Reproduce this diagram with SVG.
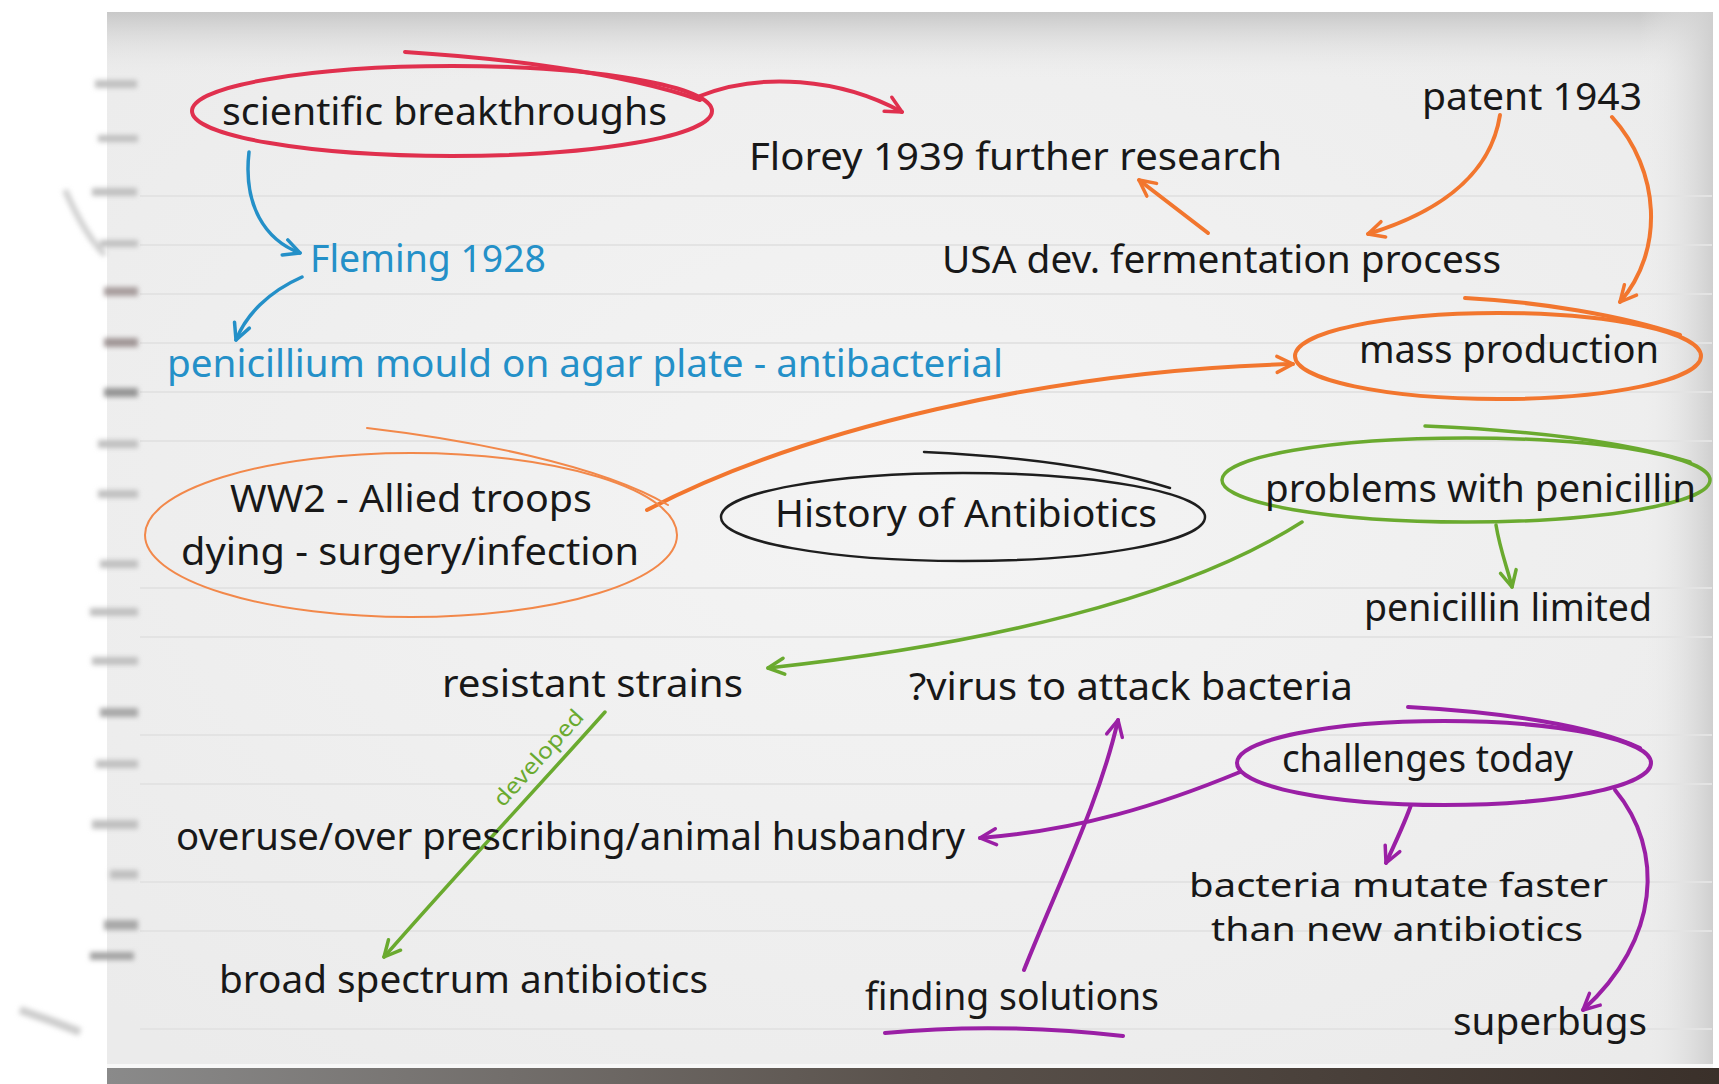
<svg xmlns="http://www.w3.org/2000/svg" width="1719" height="1084" viewBox="0 0 1719 1084">
<style>
.t{font-family:"Noto Sans","DejaVu Sans",sans-serif;font-size:38px;fill:#181818}
.b{fill:#2490c8}
.sm{font-size:32px}
.c{fill:none;stroke-linecap:round;stroke-linejoin:round}
.red{stroke:#e0304e;stroke-width:4}
.blu{stroke:#2490c8;stroke-width:3.5}
.org{stroke:#f2762e;stroke-width:4}
.grn{stroke:#6aaa2f;stroke-width:3.5}
.pur{stroke:#9a1fa5;stroke-width:4}
.blk{stroke:#1e1e1e;stroke-width:2.5}
.rule{stroke:#e3e3e3;stroke-width:2}
</style>
<defs>
<marker id="mRed" viewBox="0 0 22 22" refX="19" refY="11" markerWidth="22" markerHeight="22" markerUnits="userSpaceOnUse" orient="auto"><path d="M3,3 L19,11 L3,19" fill="none" stroke="#e0304e" stroke-width="3.5" stroke-linecap="round" stroke-linejoin="round"/></marker>
<marker id="mBlu" viewBox="0 0 22 22" refX="19" refY="11" markerWidth="22" markerHeight="22" markerUnits="userSpaceOnUse" orient="auto"><path d="M3,3 L19,11 L3,19" fill="none" stroke="#2490c8" stroke-width="3.5" stroke-linecap="round" stroke-linejoin="round"/></marker>
<marker id="mOrg" viewBox="0 0 22 22" refX="19" refY="11" markerWidth="22" markerHeight="22" markerUnits="userSpaceOnUse" orient="auto"><path d="M3,3 L19,11 L3,19" fill="none" stroke="#f2762e" stroke-width="3.5" stroke-linecap="round" stroke-linejoin="round"/></marker>
<marker id="mGrn" viewBox="0 0 22 22" refX="19" refY="11" markerWidth="22" markerHeight="22" markerUnits="userSpaceOnUse" orient="auto"><path d="M3,3 L19,11 L3,19" fill="none" stroke="#6aaa2f" stroke-width="3.5" stroke-linecap="round" stroke-linejoin="round"/></marker>
<marker id="mPur" viewBox="0 0 22 22" refX="19" refY="11" markerWidth="22" markerHeight="22" markerUnits="userSpaceOnUse" orient="auto"><path d="M3,3 L19,11 L3,19" fill="none" stroke="#9a1fa5" stroke-width="3.5" stroke-linecap="round" stroke-linejoin="round"/></marker>
<linearGradient id="gTop" x1="0" y1="0" x2="0" y2="1"><stop offset="0" stop-color="#c8c8c8"/><stop offset="1" stop-color="#efefef" stop-opacity="0"/></linearGradient>
<linearGradient id="gRight" x1="0" y1="0" x2="1" y2="0"><stop offset="0" stop-color="#efefef" stop-opacity="0"/><stop offset="1" stop-color="#cfcfcf"/></linearGradient>
<linearGradient id="gBottom" x1="0" y1="0" x2="1" y2="0"><stop offset="0" stop-color="#8a8a8a"/><stop offset="0.5" stop-color="#5a524c"/><stop offset="1" stop-color="#3a302a"/></linearGradient>
<radialGradient id="gBody" cx="0.5" cy="0.45" r="0.7"><stop offset="0" stop-color="#f4f4f4"/><stop offset="1" stop-color="#ebebeb"/></radialGradient>
<filter id="soft" x="-50%" y="-5%" width="200%" height="110%"><feGaussianBlur stdDeviation="2.5"/></filter>
</defs>

<g id="paper">
<rect x="0" y="0" width="1719" height="1084" fill="#ffffff"/>
<rect x="107" y="12" width="1606" height="1060" fill="url(#gBody)"/>
<rect x="107" y="12" width="1606" height="70" fill="url(#gTop)"/>
<rect x="1640" y="12" width="73" height="1060" fill="url(#gRight)"/>
<g class="rule">
<line x1="140" y1="196" x2="1712" y2="196"/>
<line x1="140" y1="245" x2="1712" y2="245"/>
<line x1="140" y1="294" x2="1712" y2="294"/>
<line x1="140" y1="343" x2="1712" y2="343"/>
<line x1="140" y1="392" x2="1712" y2="392"/>
<line x1="140" y1="441" x2="1712" y2="441"/>
<line x1="140" y1="588" x2="1712" y2="588"/>
<line x1="140" y1="637" x2="1712" y2="637"/>
<line x1="140" y1="735" x2="1712" y2="735"/>
<line x1="140" y1="784" x2="1712" y2="784"/>
<line x1="140" y1="882" x2="1712" y2="882"/>
<line x1="140" y1="931" x2="1712" y2="931"/>
<line x1="140" y1="1029" x2="1712" y2="1029"/>
</g>
<g filter="url(#soft)" fill="#c0c0c0">
<rect x="95" y="80" width="42" height="8"/>
<rect x="98" y="135" width="40" height="7"/>
<rect x="92" y="188" width="45" height="8"/>
<rect x="100" y="240" width="38" height="7"/>
<rect x="104" y="287" width="34" height="9" fill="#a89e9e"/>
<rect x="104" y="338" width="34" height="9" fill="#a09696"/>
<rect x="104" y="388" width="34" height="9" fill="#949494"/>
<rect x="98" y="440" width="40" height="8"/>
<rect x="98" y="490" width="40" height="8"/>
<rect x="100" y="560" width="38" height="8"/>
<rect x="90" y="608" width="48" height="8"/>
<rect x="92" y="657" width="46" height="8"/>
<rect x="100" y="708" width="38" height="9" fill="#a8a8a8"/>
<rect x="96" y="760" width="42" height="8"/>
<rect x="92" y="820" width="46" height="9"/>
<rect x="110" y="870" width="28" height="9"/>
<rect x="104" y="920" width="34" height="10" fill="#a8a8a8"/>
<rect x="90" y="952" width="44" height="8" fill="#a4a4a4"/>
<path d="M65,190 Q85,235 105,255" stroke="#d0d0d0" stroke-width="6" fill="none"/>
<path d="M20,1010 Q50,1020 80,1032" stroke="#cccccc" stroke-width="8" fill="none"/>
</g>
<rect x="107" y="1068" width="1612" height="16" fill="url(#gBottom)"/>
<rect x="107" y="1064" width="1606" height="4" fill="#f8f8f8"/>
</g>

<g id="connectors">
<path class="c red" d="M700,96 C760,72 840,78 902,112" marker-end="url(#mRed)"/>
<path class="c blu" d="M249,152 C243,205 265,240 300,253" marker-end="url(#mBlu)"/>
<path class="c blu" d="M302,277 C268,292 246,315 236,340" marker-end="url(#mBlu)"/>
<path class="c org" d="M1500,115 C1490,180 1430,215 1368,234" marker-end="url(#mOrg)"/>
<path class="c org" d="M1612,117 C1660,170 1665,250 1620,302" marker-end="url(#mOrg)"/>
<path class="c org" d="M1208,233 L1139,180" marker-end="url(#mOrg)"/>
<path class="c org" d="M647,510 C800,430 1050,370 1293,364" marker-end="url(#mOrg)"/>
<path class="c grn" d="M1496,525 C1500,550 1508,570 1512,587" marker-end="url(#mGrn)"/>
<path class="c grn" d="M1302,522 C1180,600 980,645 768,668" marker-end="url(#mGrn)"/>
<path class="c grn" d="M605,712 C540,785 460,870 384,957" marker-end="url(#mGrn)"/>
<text class="t" style="fill:#6aaa2f;font-size:22px" transform="translate(503,808) rotate(-47.7)" textLength="122" lengthAdjust="spacingAndGlyphs">developed</text>
<path class="c pur" d="M1240,772 C1160,805 1080,830 980,838" marker-end="url(#mPur)"/>
<path class="c pur" d="M1411,805 C1404,825 1394,845 1386,863" marker-end="url(#mPur)"/>
<path class="c pur" d="M1615,790 C1665,850 1660,940 1583,1010" marker-end="url(#mPur)"/>
<path class="c pur" d="M1024,970 C1060,880 1100,800 1118,720" marker-end="url(#mPur)"/>
</g>

<g id="n-scientific">
<ellipse class="c red" cx="452" cy="111" rx="260" ry="45"/>
<path class="c red" d="M405,52 C500,58 620,72 700,100"/>
<text class="t" x="222" y="125" textLength="445" lengthAdjust="spacingAndGlyphs">scientific breakthroughs</text>
</g>
<g id="n-florey"><text class="t" x="749" y="170" textLength="533" lengthAdjust="spacingAndGlyphs">Florey 1939 further research</text></g>
<g id="n-fleming"><text class="t b" x="310" y="272" textLength="236" lengthAdjust="spacingAndGlyphs">Fleming 1928</text></g>
<g id="n-penicillium"><text class="t b" x="167" y="377" textLength="836" lengthAdjust="spacingAndGlyphs">penicillium mould on agar plate - antibacterial</text></g>
<g id="n-patent"><text class="t" x="1422" y="110" textLength="220" lengthAdjust="spacingAndGlyphs">patent 1943</text></g>
<g id="n-usa"><text class="t" x="942" y="273" textLength="559" lengthAdjust="spacingAndGlyphs">USA dev. fermentation process</text></g>
<g id="n-mass">
<ellipse class="c org" cx="1498" cy="356" rx="203" ry="43"/>
<path class="c org" d="M1465,298 C1540,302 1620,315 1680,335"/>
<text class="t" x="1359" y="363" textLength="300" lengthAdjust="spacingAndGlyphs">mass production</text>
</g>
<g id="n-ww2">
<ellipse class="c" cx="411" cy="535" rx="266" ry="82" stroke="#f2884a" stroke-width="2"/>
<path class="c" d="M367,428 C470,440 600,465 668,505" stroke="#f2884a" stroke-width="2"/>
<text class="t" x="230" y="512" textLength="362" lengthAdjust="spacingAndGlyphs">WW2 - Allied troops</text>
<text class="t" x="181" y="565" textLength="458" lengthAdjust="spacingAndGlyphs">dying - surgery/infection</text>
</g>
<g id="n-history">
<ellipse class="c blk" cx="963" cy="517" rx="242" ry="44"/>
<path class="c blk" d="M924,452 C1010,456 1100,466 1170,488"/>
<text class="t" x="775" y="527" textLength="382" lengthAdjust="spacingAndGlyphs">History of Antibiotics</text>
</g>
<g id="n-problems">
<ellipse class="c grn" cx="1466" cy="480" rx="244" ry="42"/>
<path class="c grn" d="M1425,426 C1520,430 1620,440 1690,462"/>
<text class="t" x="1265" y="502" textLength="431" lengthAdjust="spacingAndGlyphs">problems with penicillin</text>
</g>
<g id="n-limited"><text class="t" x="1364" y="621" textLength="288" lengthAdjust="spacingAndGlyphs">penicillin limited</text></g>
<g id="n-resistant"><text class="t" x="442" y="697" textLength="301" lengthAdjust="spacingAndGlyphs">resistant strains</text></g>
<g id="n-virus"><text class="t" x="909" y="700" textLength="444" lengthAdjust="spacingAndGlyphs">?virus to attack bacteria</text></g>
<g id="n-challenges">
<ellipse class="c pur" cx="1444" cy="763" rx="207" ry="42"/>
<path class="c pur" d="M1408,707 C1500,712 1590,725 1640,748"/>
<text class="t" x="1282" y="772" textLength="291" lengthAdjust="spacingAndGlyphs">challenges today</text>
</g>
<g id="n-overuse"><text class="t" x="176" y="850" textLength="789" lengthAdjust="spacingAndGlyphs">overuse/over prescribing/animal husbandry</text></g>
<g id="n-mutate">
<text class="t sm" x="1189" y="897" textLength="419" lengthAdjust="spacingAndGlyphs">bacteria mutate faster</text>
<text class="t sm" x="1211" y="941" textLength="372" lengthAdjust="spacingAndGlyphs">than new antibiotics</text>
</g>
<g id="n-broad"><text class="t" x="219" y="993" textLength="489" lengthAdjust="spacingAndGlyphs">broad spectrum antibiotics</text></g>
<g id="n-finding">
<text class="t" x="865" y="1010" textLength="294" lengthAdjust="spacingAndGlyphs">finding solutions</text>
<path class="c pur" d="M885,1033 Q1000,1022 1123,1036"/>
</g>
<g id="n-superbugs"><text class="t" x="1453" y="1035" textLength="194" lengthAdjust="spacingAndGlyphs">superbugs</text></g>
</svg>
